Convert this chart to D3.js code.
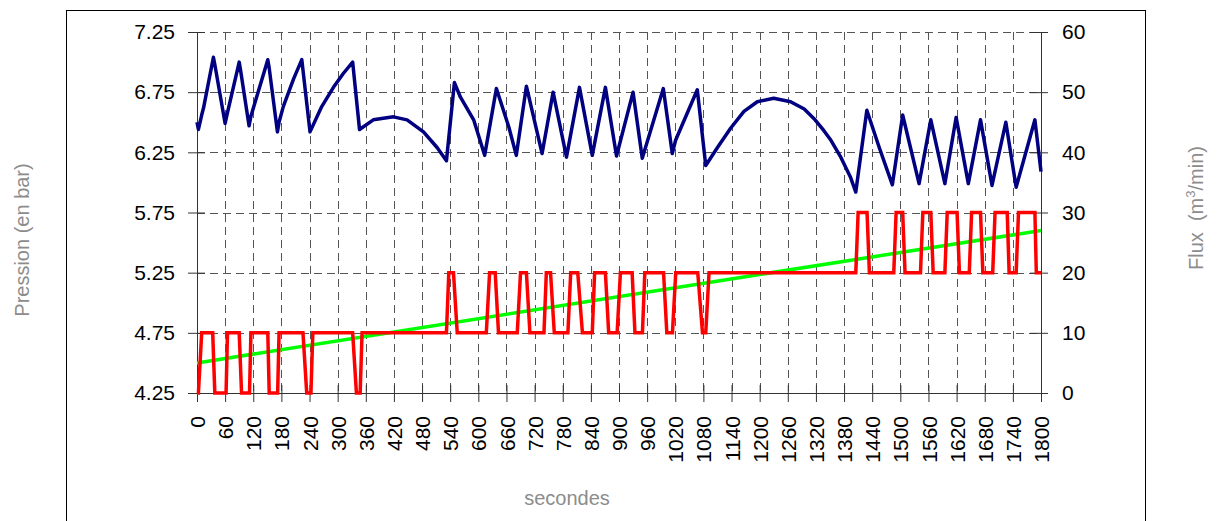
<!DOCTYPE html>
<html lang="fr">
    <head>
        <meta charset="utf-8">
        <title>Pression et flux</title>
        <style>
            body {
                margin: 0;
                background-color: white;
            }
            svg {
                display: block;
                font-family: "Liberation Sans", Arial, sans-serif;
            }
        </style>
        <script src="https://d3js.org/d3.v7.min.js"></script>
    </head>
    <body></body>
    <script>

        // pression (bar), axe de gauche
        let presTime = [0, 3, 10, 14, 35, 38, 60, 65, 90, 93, 111, 115, 151, 154, 171.5, 175, 184, 206, 223.5, 241,
            266, 291, 312, 332, 346.6, 376, 419, 448, 483, 512, 532, 549, 561.6, 590, 613.5, 638.5, 665, 681,
            702.5, 736, 759.5, 788, 815.7, 843, 871, 894.7, 930, 949.6, 994.5, 1013.6, 1020.7, 1067, 1085,
            1110, 1138, 1166.5, 1195, 1230, 1266, 1295, 1316, 1337, 1352, 1373, 1394, 1405, 1428.6, 1455,
            1483, 1505, 1540, 1565, 1595, 1619, 1645, 1671, 1695.5, 1725, 1747, 1787, 1800]
        let presVals = [6.50, 6.44, 6.56, 6.62, 7.04, 6.98, 6.49, 6.58, 7.00, 6.93, 6.47, 6.55, 7.02, 6.95, 6.42, 6.50, 6.63, 6.86, 7.02, 6.42,
            6.63, 6.79, 6.905, 7.00, 6.44, 6.52, 6.545, 6.52, 6.42, 6.29, 6.18, 6.83, 6.71, 6.52, 6.225, 6.78, 6.46, 6.225,
            6.80, 6.24, 6.75, 6.21, 6.79, 6.225, 6.79, 6.22, 6.75, 6.20, 6.78, 6.24, 6.35, 6.77, 6.14,
            6.29, 6.45, 6.59, 6.67, 6.70, 6.67, 6.61, 6.53, 6.43, 6.35, 6.21, 6.04, 5.92, 6.60, 6.29,
            5.98, 6.56, 5.99, 6.52, 5.99, 6.54, 5.99, 6.52, 5.975, 6.50, 5.96, 6.52, 6.09]

        // flux compresseur (m3/min), axe de droite
        let fluxTime = [0, 3, 10, 33.5, 38, 62, 65, 90, 95, 112, 115, 151, 154, 172, 175, 226, 234, 243, 247, 332, 340, 348, 352,
            532, 537, 547, 555, 617, 624, 636, 643, 683, 690, 702.5, 710, 740, 745, 754, 762, 791, 797, 812, 822,
            843, 848, 871, 878, 896, 903, 928, 934, 950, 955, 995, 1002, 1014, 1021, 1068, 1078, 1085, 1092,
            1405, 1410, 1429, 1434, 1486, 1491, 1505, 1510, 1543, 1548, 1565, 1570, 1595, 1600, 1621, 1626,
            1647, 1652, 1671, 1676, 1697, 1702, 1728, 1732, 1747, 1752, 1787, 1790, 1800]
        let fluxVals = [0, 0, 10, 10, 0, 0, 10, 10, 0, 0, 10, 10, 0, 0, 10, 10, 0, 0, 10, 10, 0, 0, 10,
            10, 20, 20, 10, 10, 20, 20, 10, 10, 20, 20, 10, 10, 20, 20, 10, 10, 20, 20, 10,
            10, 20, 20, 10, 10, 20, 20, 10, 10, 20, 20, 10, 10, 20, 20, 10, 10, 20,
            20, 30, 30, 20, 20, 30, 30, 20, 20, 30, 30, 20, 20, 30, 30, 20,
            20, 30, 30, 20, 20, 30, 30, 20, 20, 30, 30, 20, 20]

        // demande (m3/min), axe de droite
        let demandTime = [0, 1200, 1800]
        let demandVals = [5, 19.7, 27]

        let presTicks = [4.25, 4.75, 5.25, 5.75, 6.25, 6.75, 7.25]
        let fluxTicks = [0, 10, 20, 30, 40, 50, 60]
        let timeTicks = d3.range(0, 1801, 60)

        let width = 1220
        let height = 521
        let plotLeft = 197
        let plotRight = 1041
        let plotTop = 32
        let plotBottom = 393
        let svg, xScale, yScale, y2Scale

        let drawCanvas = () => {
            svg = d3.select("body")
                .append("svg")
                .attr("width", width)
                .attr("height", height)

            svg.append("rect")
                .attr("x", 66.5)
                .attr("y", 10.5)
                .attr("width", 1079)
                .attr("height", 540)
                .attr("fill", "white")
                .attr("stroke", "black")
        }

        let generateScales = () => {
            xScale = d3.scaleLinear().domain([0, 1800]).range([plotLeft, plotRight])
            yScale = d3.scaleLinear().domain([4.25, 7.25]).range([plotBottom, plotTop])
            y2Scale = d3.scaleLinear().domain([0, 60]).range([plotBottom, plotTop])
        }

        let drawGrid = () => {
            let grid = svg.append("g")
                .attr("stroke", "#555")
                .attr("stroke-dasharray", "8,5")
                .attr("shape-rendering", "crispEdges")

            grid.selectAll(".hgrid")
                .data(presTicks)
                .enter()
                .append("line")
                .attr("x1", plotLeft)
                .attr("x2", plotRight)
                .attr("y1", (d) => Math.round(yScale(d)) + 0.5)
                .attr("y2", (d) => Math.round(yScale(d)) + 0.5)

            grid.selectAll(".vgrid")
                .data(timeTicks)
                .enter()
                .append("line")
                .attr("x1", (d) => Math.round(xScale(d)) + 0.5)
                .attr("x2", (d) => Math.round(xScale(d)) + 0.5)
                .attr("y1", plotTop)
                .attr("y2", plotBottom)
        }

        let generateAxes = () => {
            let yAxis = d3.axisLeft(yScale)
                .tickValues(presTicks)
                .tickFormat(d3.format(".2f"))
                .tickSize(9)
                .tickPadding(13)
            let y2Axis = d3.axisRight(y2Scale)
                .tickValues(fluxTicks)
                .tickSize(7)
                .tickPadding(14)
            let xAxis = d3.axisBottom(xScale)
                .tickValues(timeTicks)
                .tickFormat((d) => d)
                .tickSize(9)

            let gy = svg.append("g")
                .attr("transform", `translate(${plotLeft},0)`)
                .call(yAxis)
            gy.selectAll(".tick line").attr("x1", 8)

            let gy2 = svg.append("g")
                .attr("transform", `translate(${plotRight},0)`)
                .call(y2Axis)
            gy2.selectAll(".tick line").attr("x1", -11)

            let gx = svg.append("g")
                .attr("transform", `translate(0,${plotBottom})`)
                .call(xAxis)
            gx.selectAll(".tick line").attr("y1", -8)
            gx.selectAll(".tick text")
                .attr("transform", "rotate(-90)")
                .attr("x", -23)
                .attr("y", 0)
                .attr("dy", "0.36em")
                .style("text-anchor", "end")

            svg.selectAll(".domain").attr("stroke", "#333")
            svg.selectAll(".tick line").attr("stroke", "#333")
            svg.selectAll(".tick text")
                .attr("fill", "black")
                .attr("font-size", 21)
                .attr("font-family", "Liberation Sans, Arial, sans-serif")
        }

        let drawLines = () => {
            let demandLine = d3.line()
                .x((d, i) => xScale(demandTime[i]))
                .y((d) => y2Scale(d))
            let fluxLine = d3.line()
                .x((d, i) => xScale(fluxTime[i]))
                .y((d) => y2Scale(d))
            let presLine = d3.line()
                .x((d, i) => xScale(presTime[i]))
                .y((d) => yScale(d))

            svg.append("path")
                .datum(demandVals)
                .attr("d", demandLine)
                .attr("fill", "none")
                .attr("stroke", "#00ff00")
                .attr("stroke-width", 3.5)

            svg.append("path")
                .datum(fluxVals)
                .attr("d", fluxLine)
                .attr("fill", "none")
                .attr("stroke", "#ff0000")
                .attr("stroke-width", 3.5)

            svg.append("path")
                .datum(presVals)
                .attr("d", presLine)
                .attr("fill", "none")
                .attr("stroke", "#000080")
                .attr("stroke-width", 3.5)
                .attr("stroke-linejoin", "round")
        }

        let drawTitles = () => {
            svg.append("text")
                .attr("transform", "translate(22,240) rotate(-90)")
                .attr("dy", "0.35em")
                .attr("text-anchor", "middle")
                .attr("font-size", 20)
                .attr("fill", "#8c8c8c")
                .text("Pression (en bar)")

            let flux = svg.append("text")
                .attr("transform", "translate(1196,208) rotate(-90)")
                .attr("dy", "0.35em")
                .attr("text-anchor", "middle")
                .attr("font-size", 20)
                .attr("fill", "#8c8c8c")
                .attr("xml:space", "preserve")
            flux.append("tspan").text("Flux  (m")
            flux.append("tspan").attr("font-size", 13).attr("dy", -8).text("3")
            flux.append("tspan").attr("dy", 8).text("/min)")

            svg.append("text")
                .attr("x", 567)
                .attr("y", 505)
                .attr("text-anchor", "middle")
                .attr("font-size", 20)
                .attr("fill", "#8c8c8c")
                .text("secondes")
        }

        drawCanvas()
        generateScales()
        drawGrid()
        generateAxes()
        drawLines()
        drawTitles()
    </script>
</html>
